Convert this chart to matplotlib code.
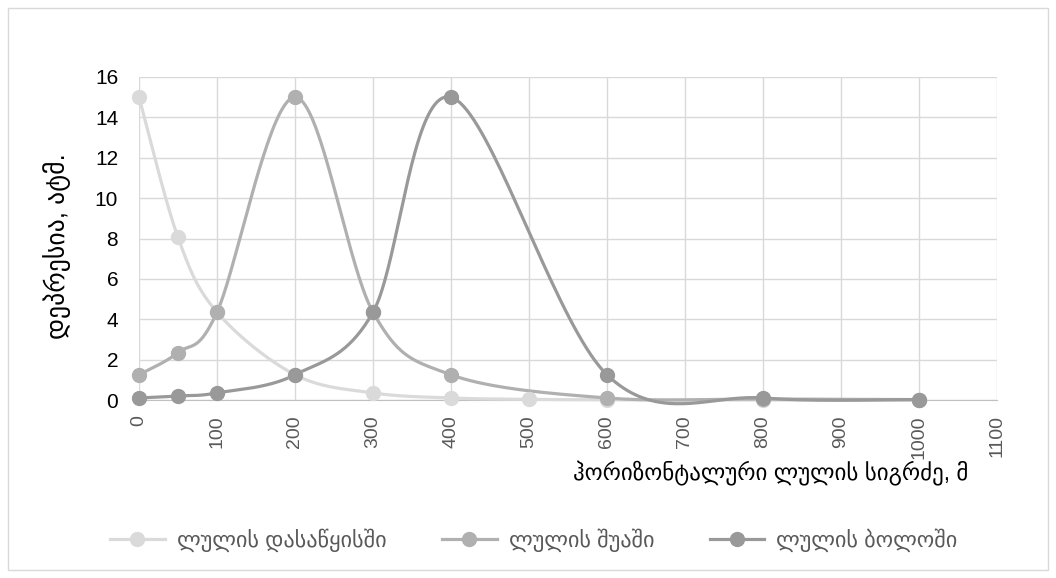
import matplotlib

matplotlib.use("Agg")

import matplotlib.pyplot as plt
import numpy as np
from matplotlib.lines import Line2D
from matplotlib.patches import Rectangle

plt.rcParams["font.family"] = ["Liberation Sans", "DejaVu Sans"]

# data
x_start = [0, 50, 100, 200, 300, 400, 500, 600, 800, 1000]
y_start = [15.0, 8.05, 4.35, 1.25, 0.35, 0.1, 0.03, 0.01, 0.0, 0.0]

x_middle = [0, 50, 100, 200, 300, 400, 600, 800, 1000]
y_middle = [1.25, 2.35, 4.35, 15.0, 4.35, 1.25, 0.1, 0.05, 0.02]

x_end = [0, 50, 100, 200, 300, 400, 600, 800, 1000]
y_end = [0.1, 0.2, 0.35, 1.25, 4.35, 15.0, 1.25, 0.1, 0.02]

series_names = ["ლულის დასაწყისში", "ლულის შუაში", "ლულის ბოლოში"]
series_colors = ["#dadada", "#b0b0b0", "#999999"]

x_ticks = list(range(0, 1101, 100))
y_ticks = list(range(0, 17, 2))


def smooth(xs, ys, steps=40):
    # Excel-style smoothing: cubic bezier with 1/6 control points
    p = np.column_stack([xs, ys]).astype(float)
    p = np.vstack([p[0], p, p[-1]])
    out = []
    for i in range(1, len(p) - 2):
        p0, p1, p2, p3 = p[i - 1], p[i], p[i + 1], p[i + 2]
        c1 = p1 + (p2 - p0) / 6.0
        c2 = p2 - (p3 - p1) / 6.0
        t = np.linspace(0, 1, steps)[:, None]
        seg = (1 - t) ** 3 * p1 + 3 * (1 - t) ** 2 * t * c1 + 3 * (1 - t) * t ** 2 * c2 + t ** 3 * p2
        out.append(seg if i == 1 else seg[1:])
    seg = np.vstack(out)
    return seg[:, 0], seg[:, 1]


fig = plt.figure(figsize=(10.56, 5.78), dpi=100)
fig.patches.append(Rectangle((8 / 1056, 8 / 578), 1040 / 1056, 1 - 16 / 578,
                             transform=fig.transFigure, fill=False, edgecolor="#d9d9d9", linewidth=1))

ax = fig.add_axes([139 / 1056, 1 - 400 / 578, 858 / 1056, 323 / 578])

for xs, ys, color in zip([x_start, x_middle, x_end], [y_start, y_middle, y_end], series_colors):
    sx, sy = smooth(xs, ys)
    ax.plot(sx, sy, color=color, linewidth=2.3, clip_on=False, zorder=3, solid_capstyle="round")
    ax.plot(xs, ys, linestyle="none", marker="o", markersize=10, color=color, clip_on=False, zorder=4)

ax.set_xlim(0, 1100)
ax.set_ylim(0, 16)
ax.set_xticks(x_ticks)
ax.set_yticks(y_ticks)
ax.set_xticklabels([str(v) for v in x_ticks], rotation=90, color="#595959", fontsize=14)
ax.set_yticklabels([str(v) for v in y_ticks], color="#000000", fontsize=15)
ax.tick_params(axis="y", length=0, pad=15)
ax.tick_params(axis="x", length=0, pad=11)
ax.grid(True, color="#d9d9d9", linewidth=1)
ax.set_axisbelow(True)
for side in ["top", "right", "left"]:
    ax.spines[side].set_visible(False)
ax.spines["bottom"].set_color("#bfbfbf")

fig.text(57 / 1056, 1 - 246 / 578, "დეპრესია, ატმ.", rotation=90, ha="center", va="center",
         fontsize=18.5, color="#000000")
fig.text(968 / 1056, 1 - 473 / 578, "ჰორიზონტალური ლულის სიგრძე, მ", ha="right", va="center",
         fontsize=16.5, color="#000000")

handles = [Line2D([0], [0], color=c, linewidth=2.3, marker="o", markersize=10) for c in series_colors]
fig.legend(handles, series_names, loc="center", bbox_to_anchor=(534 / 1056, 1 - 540 / 578), ncol=3,
           frameon=False, fontsize=16, labelcolor="#595959", handlelength=2.45, columnspacing=2.5,
           handletextpad=0.55)

fig.savefig("out.png", dpi=100, facecolor="white")
